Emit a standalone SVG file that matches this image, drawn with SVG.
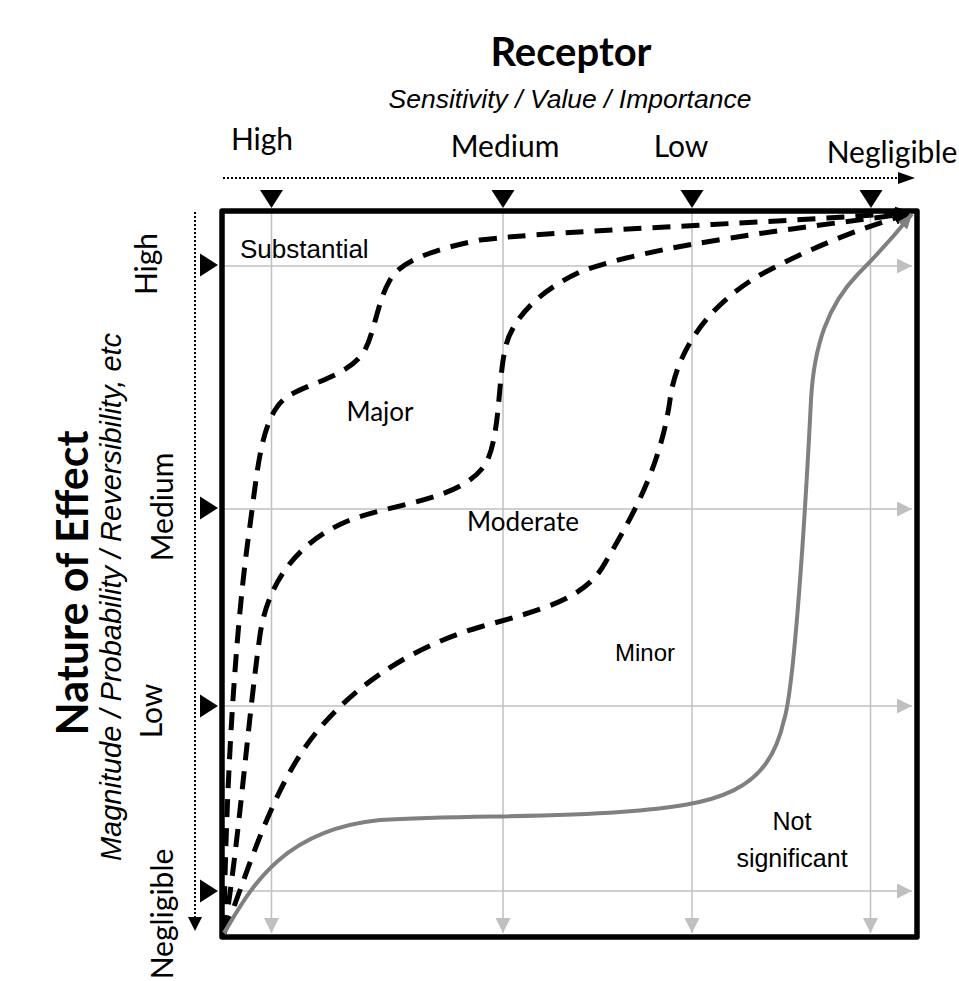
<svg xmlns="http://www.w3.org/2000/svg" width="959" height="981" viewBox="0 0 959 981">
  <style>
    .cal { font-family: Lato, "Open Sans", sans-serif; fill: #000; }
    .ari { font-family: "Liberation Sans", Arial, sans-serif; fill: #000; }
    .grid { stroke: #c0c0c0; stroke-width: 1.5; fill: none; }
    .dot { stroke: #000; stroke-width: 2; stroke-dasharray: 2 2; fill: none; }
    .dash { stroke: #000; stroke-width: 5; stroke-dasharray: 18 11; fill: none; marker-end: url(#blackHead); }
    .solid { stroke: #808080; stroke-width: 4; fill: none; marker-end: url(#grayHead); }
    .tick { fill: #000; }
  </style>
  <defs>
    <marker id="gridHead" markerUnits="userSpaceOnUse" markerWidth="16" markerHeight="16" refX="15" refY="7.5" orient="auto">
      <path d="M0,0 L15,7.5 L0,15 Z" fill="#c0c0c0"/>
    </marker>
    <marker id="blackHead" markerUnits="userSpaceOnUse" markerWidth="20" markerHeight="16" refX="17" refY="7" orient="auto">
      <path d="M0,0 L17,7 L0,14 Z" fill="#000"/>
    </marker>
    <marker id="grayHead" markerUnits="userSpaceOnUse" markerWidth="20" markerHeight="16" refX="15" refY="6" orient="auto">
      <path d="M0,0 L15,6 L0,12 Z" fill="#808080"/>
    </marker>
  </defs>

  <!-- Titles -->
  <g id="title-receptor">
    <text class="cal" x="571" y="66" font-size="40" font-weight="bold" text-anchor="middle">Receptor</text>
    <text class="ari" x="570" y="108" font-size="26.5" font-style="italic" text-anchor="middle">Sensitivity / Value / Importance</text>
  </g>
  <g id="title-effect">
    <text class="cal" transform="translate(88,583) rotate(-90)" font-size="43" font-weight="bold" text-anchor="middle">Nature of Effect</text>
    <text class="ari" transform="translate(121,597) rotate(-90)" font-size="29" font-style="italic" text-anchor="middle">Magnitude / Probability / Reversibility, etc</text>
  </g>

  <!-- Receptor scale labels -->
  <g id="receptor-scale">
    <text class="cal" x="262" y="150" font-size="30" text-anchor="middle">High</text>
    <text class="cal" x="505" y="157" font-size="30" text-anchor="middle">Medium</text>
    <text class="cal" x="681" y="157" font-size="30" text-anchor="middle">Low</text>
    <text class="cal" x="892" y="163" font-size="30" text-anchor="middle">Negligible</text>
    <line class="dot" x1="223" y1="178" x2="900" y2="178"/>
    <path d="M898,172 L915,178 L898,184 Z" fill="#000"/>
    <path class="tick" d="M260,190 L283,190 L271.5,208 Z"/>
    <path class="tick" d="M491.5,190 L514.5,190 L503,208 Z"/>
    <path class="tick" d="M680.5,190 L703.5,190 L692,208 Z"/>
    <path class="tick" d="M859.5,190 L882.5,190 L871,208 Z"/>
  </g>

  <!-- Effect scale labels -->
  <g id="effect-scale">
    <text class="cal" transform="translate(157,264) rotate(-90)" font-size="30" text-anchor="middle">High</text>
    <text class="cal" transform="translate(173,507) rotate(-90)" font-size="30" text-anchor="middle">Medium</text>
    <text class="cal" transform="translate(162,711) rotate(-90)" font-size="30" text-anchor="middle">Low</text>
    <text class="cal" transform="translate(173,914) rotate(-90)" font-size="30" text-anchor="middle">Negligible</text>
    <line class="dot" x1="195" y1="212" x2="195" y2="918"/>
    <path d="M188,917 L202,917 L195,931 Z" fill="#000"/>
    <path class="tick" d="M200,253.5 L200,276.5 L218,265 Z"/>
    <path class="tick" d="M200,496.5 L200,519.5 L218,508 Z"/>
    <path class="tick" d="M200,694.5 L200,717.5 L218,706 Z"/>
    <path class="tick" d="M200,879.5 L200,902.5 L218,891 Z"/>
  </g>

  <!-- Grid -->
  <g id="grid">
    <line class="grid" x1="224" y1="266" x2="912" y2="266" marker-end="url(#gridHead)"/>
    <line class="grid" x1="224" y1="509" x2="912" y2="509" marker-end="url(#gridHead)"/>
    <line class="grid" x1="224" y1="706" x2="912" y2="706" marker-end="url(#gridHead)"/>
    <line class="grid" x1="224" y1="891" x2="912" y2="891" marker-end="url(#gridHead)"/>
    <line class="grid" x1="271.5" y1="213" x2="271.5" y2="933" marker-end="url(#gridHead)"/>
    <line class="grid" x1="503" y1="213" x2="503" y2="933" marker-end="url(#gridHead)"/>
    <line class="grid" x1="692" y1="213" x2="692" y2="933" marker-end="url(#gridHead)"/>
    <line class="grid" x1="870.5" y1="213" x2="870.5" y2="933" marker-end="url(#gridHead)"/>
  </g>

  <!-- Frame -->
  <g id="frame">
    <rect x="222" y="211" width="695" height="726" fill="none" stroke="#000" stroke-width="5.5" stroke-linejoin="round"/>
  </g>

  <!-- Boundary curves -->
  <g id="connectors">
    <path class="dash" d="M224,933 C225,830 232,660 248,540 C258,470 260,412 290,395 C315,381 350,375 365,350 C375,330 378,300 390,280 C400,262 430,250 480,240 C560,230 800,222 912,212"/>
    <path class="dash" d="M224,933 C238,850 248,720 260,635 C268,580 300,540 350,520 C400,502 460,500 485,465 C500,440 498,380 505,350 C510,320 540,290 580,272 C650,245 800,228 912,213"/>
    <path class="dash" d="M224,933 C245,880 265,810 300,755 C335,700 400,650 480,627 C540,610 585,600 605,563 C630,520 660,470 670,400 C675,360 700,310 760,275 C810,248 860,228 912,213"/>
    <path class="solid" d="M224,933 C250,890 280,830 380,820 C460,815 540,818 620,812 C720,805 768,792 784,720 C794,690 805,520 811,400 C814,345 828,305 858,274 C878,254 895,235 912,214"/>
  </g>

  <!-- Zone labels -->
  <g id="zone-substantial"><text class="ari" x="240" y="258" font-size="26">Substantial</text></g>
  <g id="zone-major"><text class="cal" x="380" y="421" font-size="26" text-anchor="middle">Major</text></g>
  <g id="zone-moderate"><text class="cal" x="523" y="531" font-size="26" text-anchor="middle">Moderate</text></g>
  <g id="zone-minor"><text class="ari" x="645" y="661" font-size="24" text-anchor="middle">Minor</text></g>
  <g id="zone-not-significant">
    <text class="ari" x="792" y="830" font-size="25" text-anchor="middle">Not</text>
    <text class="ari" x="792" y="867" font-size="25" text-anchor="middle">significant</text>
  </g>
</svg>
